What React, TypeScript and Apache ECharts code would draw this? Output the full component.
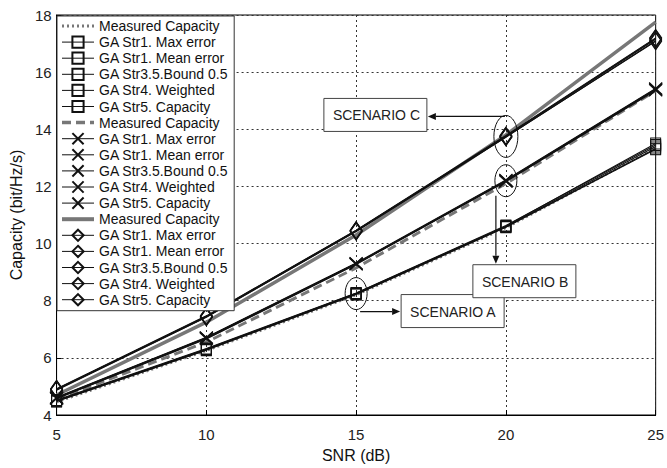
import React, { useEffect, useRef } from "react";
import * as echarts from "echarts";

const snr = [5, 10, 15, 20, 25];

const strategyNames = [
  "GA Str1. Max error",
  "GA Str1. Mean error",
  "GA Str3.5.Bound 0.5",
  "GA Str4. Weighted",
  "GA Str5. Capacity",
];

// Scenario A (squares)
const measuredA = [4.45, 6.25, 8.2, 10.55, 13.35];
const gaA = [
  [4.5, 6.3, 8.25, 10.6, 13.4],
  [4.48, 6.28, 8.23, 10.58, 13.33],
  [4.52, 6.33, 8.27, 10.63, 13.45],
  [4.47, 6.27, 8.22, 10.57, 13.3],
  [4.5, 6.31, 8.26, 10.61, 13.5],
];

// Scenario B (crosses)
const measuredB = [4.55, 6.55, 9.15, 12.1, 15.35];
const gaB = [
  [4.6, 6.7, 9.3, 12.2, 15.4],
  [4.58, 6.68, 9.28, 12.18, 15.38],
  [4.62, 6.72, 9.32, 12.23, 15.43],
  [4.57, 6.66, 9.27, 12.17, 15.36],
  [4.6, 6.7, 9.3, 12.21, 15.41],
];

// Scenario C (diamonds)
const measuredC = [4.7, 7.25, 10.3, 13.8, 17.75];
const gaC = [
  [4.9, 7.45, 10.45, 13.75, 17.15],
  [4.88, 7.43, 10.42, 13.72, 17.1],
  [4.92, 7.47, 10.47, 13.78, 17.2],
  [4.87, 7.42, 10.43, 13.73, 17.08],
  [4.9, 7.46, 10.46, 13.76, 17.18],
];

const xTicks = { min: 5, max: 25, interval: 5 };
const yTicks = { min: 4, max: 18, interval: 2 };

const FONT = '"Liberation Sans", Arial, Helvetica, sans-serif';
const CROSS = "path://M0,0L10,10M10,0L0,10";

function pairs(vals: number[]) {
  return snr.map((x, i) => [x, vals[i]]);
}

function measuredSeries(tag: string, vals: number[], type: any, width: number) {
  return {
    type: "line",
    name: "Measured Capacity|" + tag,
    data: pairs(vals),
    symbol: "circle",
    showSymbol: false,
    symbolSize: 1,
    lineStyle: { color: "#777", width, type },
    itemStyle: { color: "rgba(0,0,0,0)", borderWidth: 0 },
    emphasis: { disabled: true },
    z: 2,
    _legendWidth: width + 0.5,
  };
}

function gaSeries(tag: string, sets: number[][], symbol: string, size: number[]) {
  return sets.map((vals, k) => ({
    type: "line",
    name: strategyNames[k] + "|" + tag,
    data: pairs(vals),
    symbol,
    symbolSize: size,
    showSymbol: true,
    lineStyle: { color: "#111", width: 1.1 },
    itemStyle: { color: "rgba(255,255,255,0)", borderColor: "#111", borderWidth: 1 },
    emphasis: { disabled: true },
    z: 3,
    _legendWidth: 1,
  }));
}

export default function App() {
  const ref = useRef<HTMLDivElement>(null);
  useEffect(() => {
    if (!ref.current) return;
    document.body.style.margin = "0";
    const chart = echarts.init(ref.current, null, { renderer: "svg" });
    const built: any[] = [
      measuredSeries("A", measuredA, [2, 3], 2.5),
      ...gaSeries("A", gaA, "rect", [10, 11]),
      measuredSeries("B", measuredB, [9, 5], 3),
      ...gaSeries("B", gaB, CROSS, [13, 12]),
      measuredSeries("C", measuredC, "solid", 3.5),
      ...gaSeries("C", gaC, "diamond", [12, 17]),
    ];
    const legendData = built.map((s) => ({
      name: s.name,
      lineStyle: { width: s._legendWidth },
    }));
    const series = built.map((s) => {
      const { _legendWidth, ...rest } = s;
      return rest;
    });
    const option: any = {
      animation: false,
      backgroundColor: "#fff",
      textStyle: { fontFamily: FONT },
      grid: {
        left: 55,
        right: 11,
        top: 15,
        bottom: 44,
        show: true,
        borderColor: "#000",
        borderWidth: 1,
      },
      legend: {
        orient: "vertical",
        left: 57,
        top: 16,
        itemWidth: 32,
        itemHeight: 14,
        itemGap: 2.1,
        padding: [3, 6, 4, 3],
        backgroundColor: "#fff",
        borderColor: "#333",
        borderWidth: 1,
        borderRadius: 0,
        selectedMode: false,
        data: legendData,
        formatter: (name: string) => name.split("|")[0],
        textStyle: { fontFamily: FONT, fontSize: 14, color: "#111", lineHeight: 14 },
        z: 10,
      },
      xAxis: {
        type: "value",
        ...xTicks,
        name: "SNR (dB)",
        nameLocation: "middle",
        nameGap: 32,
        nameTextStyle: { fontFamily: FONT, fontSize: 16, color: "#111" },
        axisLine: { lineStyle: { color: "#000", width: 1 } },
        axisTick: { inside: true, length: 5, lineStyle: { color: "#000" } },
        axisLabel: { fontFamily: FONT, fontSize: 15, color: "#222", margin: 12 },
        splitLine: { show: true, lineStyle: { color: "#333", type: [2, 3], width: 1 } },
      },
      yAxis: {
        type: "value",
        ...yTicks,
        name: "Capacity (bit/Hz/s)",
        nameLocation: "middle",
        nameGap: 30,
        nameTextStyle: { fontFamily: FONT, fontSize: 16, color: "#111" },
        axisLine: { show: true, lineStyle: { color: "#000", width: 1 } },
        axisTick: { show: true, inside: true, length: 5, lineStyle: { color: "#000" } },
        axisLabel: { fontFamily: FONT, fontSize: 15, color: "#222", margin: 5 },
        splitLine: { show: true, lineStyle: { color: "#333", type: [2, 3], width: 1 } },
      },
      series,
    };
    chart.setOption(option);

    const p = (x: number, y: number) => chart.convertToPixel({ gridIndex: 0 }, [x, y]) as number[];
    const cC = p(20, gaC[0][3]);
    const cB = p(20, gaB[0][3]);
    const cA = p(15, gaA[0][2]);

    const box = (left: number, top: number, label: string) => ({
      type: "group",
      z: 20,
      children: [
        {
          type: "rect",
          shape: { x: left, y: top, width: 103, height: 33 },
          style: { fill: "#fff", stroke: "#444", lineWidth: 1 },
        },
        {
          type: "text",
          x: left + 9,
          y: top + 17,
          style: {
            text: label,
            fontFamily: FONT,
            fontSize: 14,
            fill: "#222",
            verticalAlign: "middle",
            textAlign: "left",
          },
        },
      ],
    });
    const ellipse = (c: number[], rx: number, ry: number) => ({
      type: "ellipse",
      z: 20,
      shape: { cx: c[0], cy: c[1], rx, ry },
      style: { fill: "none", stroke: "#111", lineWidth: 1 },
    });
    const arrow = (x1: number, y1: number, x2: number, y2: number) => {
      const dx = x2 - x1;
      const dy = y2 - y1;
      const len = Math.sqrt(dx * dx + dy * dy);
      const ux = dx / len;
      const uy = dy / len;
      const hl = 8;
      const hw = 3.5;
      const bx = x2 - ux * hl;
      const by = y2 - uy * hl;
      return {
        type: "group",
        z: 21,
        children: [
          {
            type: "line",
            shape: { x1, y1, x2: bx, y2: by },
            style: { stroke: "#111", lineWidth: 1.2 },
          },
          {
            type: "polygon",
            shape: {
              points: [
                [x2, y2],
                [bx - uy * hw, by + ux * hw],
                [bx + uy * hw, by - ux * hw],
              ],
            },
            style: { fill: "#111" },
          },
        ],
      };
    };

    chart.setOption({
      graphic: [
        ellipse(cC, 12, 21),
        ellipse(cB, 11, 16),
        ellipse(cA, 11, 16),
        box(cC[0] - 182, cC[1] - 38, "SCENARIO C"),
        arrow(cC[0] - 1, cC[1] - 20, cC[0] - 78, cC[1] - 20),
        box(cA[0] + 45, cA[1] + 1, "SCENARIO A"),
        box(cB[0] - 33, cB[1] + 84, "SCENARIO B"),
        arrow(cB[0] - 10, cB[1] + 15, cB[0] - 10, cB[1] + 83),
        arrow(cA[0] + 4, cA[1] + 18, cA[0] + 44, cA[1] + 18),
      ],
    });

    return () => chart.dispose();
  }, []);
  return <div ref={ref} style={{ width: 667, height: 468 }} />;
}
